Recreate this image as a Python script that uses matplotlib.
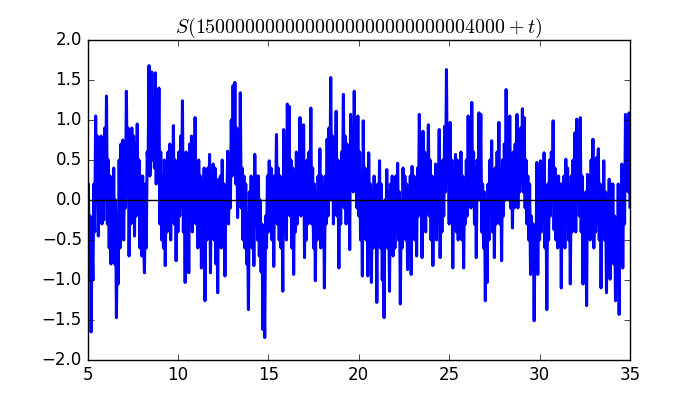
import numpy as np
import matplotlib
matplotlib.use("Agg")
import matplotlib.pyplot as plt

plt.style.use("classic")

t_start, t_step = 5.0, 0.05
s_values = [
    -0.9, 0.2, -1.0, -0.2, -1.65, -0.5, -1.0, 0.2, -0.4, 1.05,          # 5.0
    0.0, 0.8, -0.45, 0.5, -0.2, 0.8, -0.3, 0.6, -0.25, 0.9,             # 5.5
    0.0, 1.3, -0.3, 0.5, -0.6, 0.3, -0.8, 0.2, -0.5, 0.4,               # 6.0
    -0.8, 0.0, -1.47, -0.3, -1.05, 0.5, -0.6, 0.7, -0.3, 0.75,          # 6.5
    -0.5, 0.5, -0.1, 1.36, 0.2, 0.9, -0.7, 0.4, -0.3, 0.9,              # 7.0
    -0.2, 0.8, -0.45, 0.7, -0.2, 0.95, -0.1, 0.5, -0.6, 0.3,            # 7.5
    -0.7, 0.3, -0.5, -0.91, 0.2, -0.6, 0.6, 0.4, 1.68, 0.3,             # 8.0
    0.6, 1.6, 0.5, 1.2, 0.4, 1.59, 0.2, 1.1, 0.3, 1.4,                  # 8.5
    -0.3, 0.6, -0.5, 0.3, -0.6, 0.5, -0.82, 0.2, -0.4, 0.6,             # 9.0
    -0.3, 0.7, -0.5, 0.4, -0.2, 0.93, -0.3, 0.5, -0.76, 0.3,            # 9.5
    -0.4, 0.6, -0.2, 0.8, -0.1, 1.24, -0.4, 0.3, -1.03, 0.6,            # 10.0
    -0.5, 0.5, -0.91, 0.7, -0.3, 0.8, -0.4, 0.4, -0.2, 1.03,            # 10.5
    -0.3, 0.4, -0.6, 0.5, -0.3, 0.3, -0.85, 0.2, -0.6, 0.4,             # 11.0
    -1.26, 0.2, -0.5, 0.4, -0.2, 0.57, -0.91, 0.3, -0.4, 0.45,          # 11.5
    -0.5, 0.4, -0.8, 0.1, -1.16, 0.26, -0.4, 0.3, -0.6, 0.5,            # 12.0
    -0.3, 0.2, -0.95, 0.1, -0.2, 0.61, -0.3, 0.5, -0.1, 1.0,            # 12.5
    0.3, 1.43, 0.4, 1.47, 0.2, 0.9, -0.22, 0.5, 0.0, 1.34,              # 13.0
    -0.1, 0.4, -0.5, 0.3, -0.6, 0.2, -0.8, -0.3, -1.37, 0.1,            # 13.5
    -0.5, 0.3, -0.6, 0.2, -0.82, 0.57, -0.3, 0.3, -0.5, 0.3,            # 14.0
    -0.7, 0.0, -0.9, -0.3, -1.62, -0.6, -1.72, -0.2, -0.6, 0.3,         # 14.5
    -0.4, 0.49, -0.3, 0.4, -0.5, 0.3, -0.83, 0.3, -0.1, 0.82,           # 15.0
    -0.3, 0.4, -0.5, 0.3, -0.6, 0.1, -1.14, 0.88, -0.4, 0.6,            # 15.5
    -0.5, 1.2, 0.2, 1.17, -0.2, 0.5, -0.6, 0.4, -0.93, 0.3,             # 16.0
    -0.4, 0.6, -0.3, 0.5, 0.0, 1.03, -0.2, 0.6, -0.1, 0.94,             # 16.5
    -0.72, 0.4, -0.5, 0.5, -0.3, 0.6, -0.2, 1.15, -0.3, 0.4,            # 17.0
    -0.6, 0.2, -1.01, 0.1, -0.5, 0.3, -0.2, 0.64, -0.6, 0.3,            # 17.5
    -0.5, 0.2, -1.1, 0.3, -0.3, 0.76, -0.2, 0.9, 0.0, 1.53,             # 18.0
    0.1, 0.8, -0.3, 0.6, 0.1, 1.11, -0.2, 0.5, -0.85, 0.4,              # 18.5
    -0.3, 0.6, 0.0, 1.32, -0.1, 0.8, -0.3, 0.7, -0.2, 0.5,              # 19.0
    -0.62, 1.07, 0.2, 0.9, 0.1, 1.36, 0.3, 0.8, -0.1, 1.05,             # 19.5
    -0.2, 0.6, -0.5, 0.3, -0.95, 0.99, -0.3, 0.4, -0.5, 0.2,            # 20.0
    -0.95, 0.59, -0.4, 0.2, -1.03, 0.1, -0.6, 0.3, -0.5, 0.1,           # 20.5
    -1.28, 0.2, -0.4, 0.49, -0.6, 0.2, -1.0, -0.2, -1.47, 0.0,          # 21.0
    -0.5, 0.38, -0.6, 0.1, -1.14, 0.2, -0.5, 0.3, -0.7, 0.2,            # 21.5
    -0.6, 0.3, -0.4, 0.46, -0.5, 0.1, -1.3, 0.0, -0.6, 0.4,             # 22.0
    -0.3, 0.3, -0.5, 0.2, -0.87, 0.1, -0.4, 0.3, -0.93, 0.42,           # 22.5
    -0.3, 0.3, -0.5, 0.2, -0.7, 0.4, -0.2, 1.07, -0.1, 0.5,             # 23.0
    -0.72, 0.86, -0.3, 0.6, -0.4, 0.5, -0.1, 0.94, -0.2, 0.5,           # 23.5
    -0.5, 0.3, -0.82, 0.2, -0.3, 0.45, -0.5, 0.3, -0.2, 0.88,           # 24.0
    -0.72, 0.3, -0.4, 0.5, -0.2, 0.92, 0.1, 1.63, 0.2, 0.8,             # 24.5
    -0.3, 0.97, -0.2, 0.5, -0.85, 0.4, -0.3, 0.57, -0.4, 0.5,           # 25.0
    -0.5, 0.4, -0.3, 0.6, -0.5, 0.3, -0.85, 0.2, -0.3, 0.5,             # 25.5
    -0.2, 1.05, 0.0, 0.7, -0.1, 1.22, 0.0, 0.6, -0.3, 0.4,              # 26.0
    -0.72, 0.5, 0.0, 1.09, 0.2, 1.07, -0.4, 0.2, -0.6, 0.1,             # 26.5
    -1.26, 0.0, -1.03, 0.2, -0.5, 0.5, -0.1, 0.74, -0.4, 0.3,           # 27.0
    -0.72, 0.4, -0.3, 0.6, 0.0, 0.97, -0.3, 0.4, -0.76, 0.5,            # 27.5
    -0.2, 0.7, 0.0, 1.38, 0.1, 0.8, 0.0, 1.05, -0.1, 0.5,               # 28.0
    -0.35, 0.6, -0.1, 0.7, 0.0, 1.07, -0.1, 0.6, 0.1, 0.9,              # 28.5
    0.2, 1.14, 0.1, 1.03, -0.1, 0.5, -0.3, 0.3, -0.5, 0.2,              # 29.0
    -0.93, -0.2, -0.8, -0.3, -1.51, -0.4, -0.9, 0.47, -0.93, 0.3,       # 29.5
    -0.5, 0.49, -0.4, 0.4, -0.3, 0.59, -0.6, 0.1, -1.37, 0.2,           # 30.0
    -0.5, 0.5, -0.2, 0.6, 0.0, 0.99, -0.37, 0.4, -0.5, 0.3,             # 30.5
    -0.6, 0.3, -0.5, 0.2, -1.1, 0.2, -0.4, 0.3, -0.6, 0.51,             # 31.0
    -0.3, 0.4, -0.5, 0.2, -1.05, 0.3, -0.4, 0.5, -0.1, 0.84,            # 31.5
    -0.4, 1.01, 0.0, 0.6, -0.2, 1.03, -0.4, 0.3, -1.05, 0.0,            # 32.0
    -0.6, 0.1, -1.32, 0.32, -0.4, 0.3, -0.5, 0.5, -0.1, 0.76,           # 32.5
    -0.6, 0.5, -0.4, 0.53, -0.3, 0.64, -0.5, 0.2, -1.1, 0.0,            # 33.0
    -0.4, 0.49, -0.5, 0.1, -1.16, 0.0, -0.5, 0.26, -0.99, 0.2,          # 33.5
    -0.6, 0.2, -0.8, -0.2, -1.26, -0.3, -0.9, 0.2, -1.43, -0.1,         # 34.0
    -0.6, 0.45, -0.85, 0.3, -0.3, 1.07, 0.2, 1.0, 0.1, 1.09,            # 34.5
    -0.09,                                                              # 35.0
]
t_values = t_start + t_step * np.arange(len(s_values))

title = r"$S(1500000000000000000000000004000+t)$"

fig = plt.figure(figsize=(7, 4), dpi=100)
ax = fig.add_subplot(111)
ax.plot(t_values, s_values, color="blue", linewidth=2.2)
ax.axhline(0, color="black", linewidth=1)
ax.set_xlim(5, 35)
ax.set_ylim(-2, 2)
ax.set_title(title)

fig.savefig("out.png", dpi=100, facecolor="white")
